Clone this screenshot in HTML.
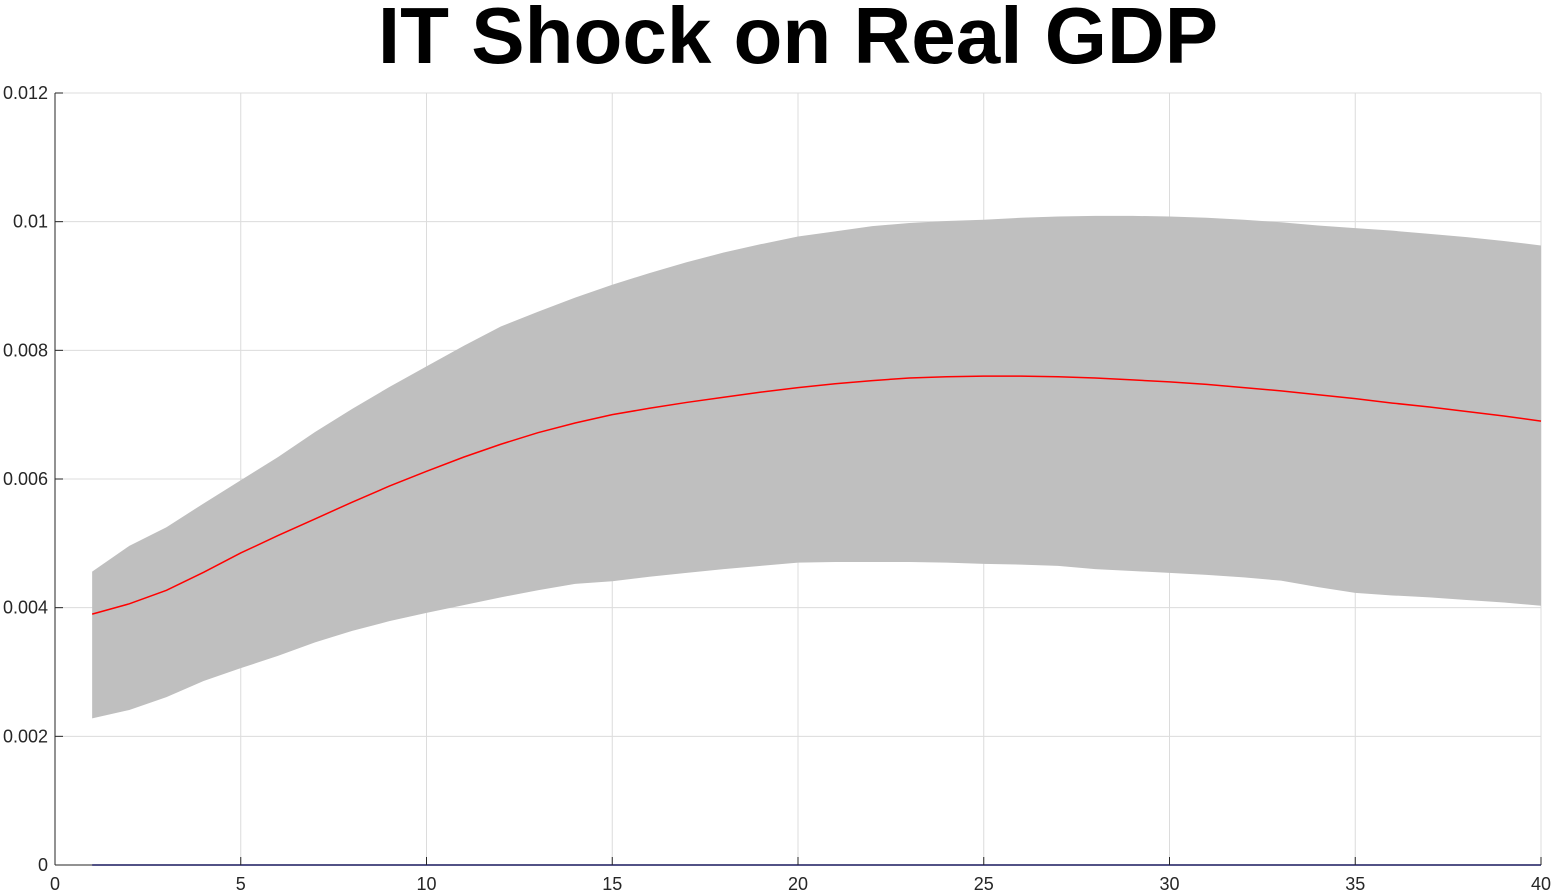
<!DOCTYPE html>
<html><head><meta charset="utf-8"><style>
html,body{margin:0;padding:0;background:#fff;}
svg{display:block;font-family:"Liberation Sans",Arial,sans-serif;}
</style></head><body>
<svg id="chart" width="1554" height="893" viewBox="0 0 1554 893" xmlns="http://www.w3.org/2000/svg">
<text x="798" y="63" text-anchor="middle" font-size="80" font-weight="bold" fill="#000">IT Shock on Real GDP</text>
<g id="grid"></g>
<g id="marks"></g>
<g id="axes"></g>
</svg>
<script>
const periods = [];
for (let i = 1; i <= 40; i++) periods.push(i);
const median = [.00390,.00406,.00427,.00455,.00485,.00512,.00538,.00564,.00589,.00612,.00634,.00654,.00672,.00687,.00700,.00710,.00719,.00727,.00735,.00742,.00748,.00753,.00757,.00759,.00760,.00760,.00759,.00757,.00754,.00751,.00747,.00742,.00737,.00731,.00725,.00718,.00712,.00705,.00698,.00690];
const upper = [.00456,.00496,.00525,.00562,.00598,.00634,.00673,.00709,.00743,.00775,.00807,.00837,.00860,.00882,.00902,.00920,.00937,.00952,.00965,.00977,.00985,.00993,.00998,.01001,.01003,.01006,.01008,.01009,.01009,.01008,.01006,.01003,.00999,.00994,.00990,.00986,.00981,.00976,.00970,.00963];
const lower = [.00228,.00241,.00261,.00286,.00306,.00325,.00346,.00364,.00379,.00392,.00404,.00416,.00427,.00437,.00441,.00448,.00454,.00460,.00465,.00470,.00471,.00471,.00471,.00470,.00468,.00467,.00465,.00460,.00457,.00454,.00451,.00447,.00442,.00432,.00423,.00419,.00416,.00412,.00408,.00403];
const zeroLine = periods.map(() => 0);
const xTicks = [0,5,10,15,20,25,30,35,40];
const yTicks = [0,0.002,0.004,0.006,0.008,0.01,0.012];
const yTickLabels = ["0","0.002","0.004","0.006","0.008","0.01","0.012"];

const X0=55, X1=1541, Y0=865, Y1=93;
const xs = v => X0 + (v-0)/(40-0)*(X1-X0);
const ys = v => Y0 - (v-0)/(0.012-0)*(Y0-Y1);
const NS="http://www.w3.org/2000/svg";
function mk(tag, parent, attrs){const e=document.createElementNS(NS,tag);for(const k in attrs)e.setAttribute(k,attrs[k]);parent.appendChild(e);return e;}
const grid=document.getElementById('grid'), marks=document.getElementById('marks'), axes=document.getElementById('axes');

xTicks.forEach(t=>{
  const l=mk('line',grid,{x1:xs(t),x2:xs(t),y1:Y1,y2:Y0,stroke:'#dcdcdc','stroke-width':1});
  
  
  const tk=mk('line',axes,{x1:xs(t),x2:xs(t),y1:Y0,y2:Y0-8,stroke:'#262626','stroke-width':1});
  
  
  const tx=mk('text',axes,{x:xs(t),y:Y0+25,'text-anchor':'middle','font-size':18,fill:'#262626'});
  tx.textContent=t;
  
  
});
yTicks.forEach((t,i)=>{
  const l=mk('line',grid,{x1:X0,x2:X1,y1:ys(t),y2:ys(t),stroke:'#dcdcdc','stroke-width':1});
  
  
  const tk=mk('line',axes,{x1:X0,x2:X0+8,y1:ys(t),y2:ys(t),stroke:'#262626','stroke-width':1});
  
  
  const tx=mk('text',axes,{x:X0-7,y:ys(t)+6,'text-anchor':'end','font-size':18,fill:'#262626'});
  tx.textContent=yTickLabels[i];
  
  
});
const ax=mk('line',axes,{x1:X0,x2:X0,y1:Y1,y2:Y0,stroke:'#262626','stroke-width':1});


const bx=mk('line',axes,{x1:X0,x2:X1,y1:Y0,y2:Y0,stroke:'#262626','stroke-width':1});



let d='';
periods.forEach((p,i)=>{d+=(i?'L':'M')+xs(p)+','+ys(upper[i]);});
for(let i=periods.length-1;i>=0;i--){d+='L'+xs(periods[i])+','+ys(lower[i]);}
d+='Z';
const band=mk('path',marks,{d:d,fill:'#bfbfbf',stroke:'none'});



const line=(arr,color,name)=>{
  const pts=periods.map((p,i)=>xs(p)+','+ys(arr[i])).join(' ');
  const e=mk('polyline',marks,{points:pts,fill:'none',stroke:color,'stroke-width':1.5});
  
  
};
line(median,'#ff0000','median-response-line');
line(zeroLine,'#0000cc','zero-line');
</script>
</body></html>
